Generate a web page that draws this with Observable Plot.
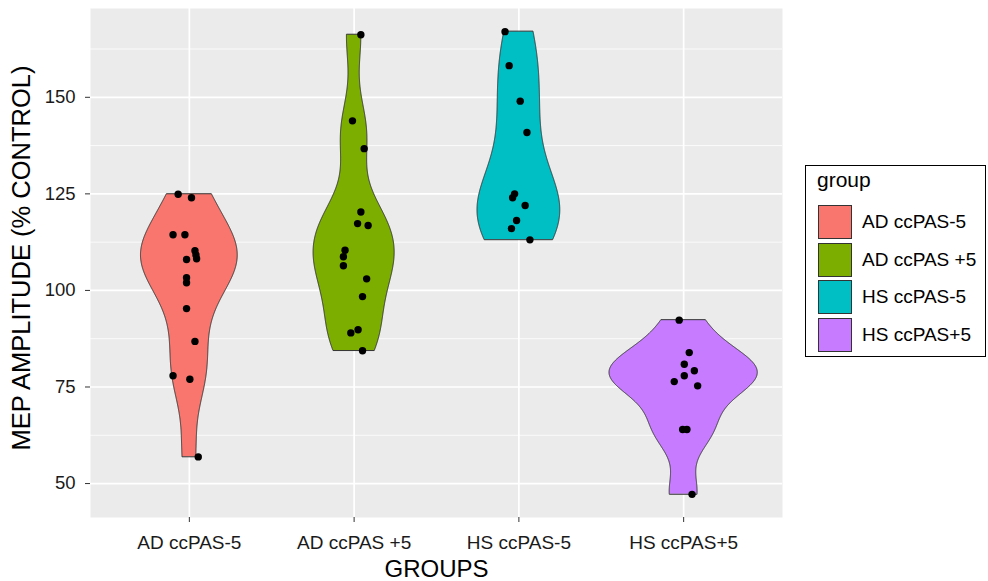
<!DOCTYPE html>
<html><head><meta charset="utf-8">
<script src="https://cdn.jsdelivr.net/npm/d3@7"></script>
<script src="https://cdn.jsdelivr.net/npm/@observablehq/plot@0.6"></script>
<style>
body{margin:0;background:#fff;font-family:"Liberation Sans",Arial,sans-serif;}
#wrap{position:relative;width:988px;height:581px;overflow:hidden;}
#legend{position:absolute;left:805px;top:165px;width:181px;height:192px;border:1.5px solid #000;box-sizing:border-box;background:#fff;}
#legend .title{position:absolute;left:11px;top:2px;font-size:21px;color:#000;}
#legend .item{position:absolute;left:12px;height:36px;display:flex;align-items:center;}
#legend .sw{width:34px;height:34px;border:1px solid #333;box-sizing:border-box;}
#legend .lab{margin-left:10px;font-size:19px;color:#000;white-space:nowrap;}
</style></head><body><div id="wrap"></div>
<script>
const groups = ["AD ccPAS-5", "AD ccPAS +5", "HS ccPAS-5", "HS ccPAS+5"];
const colors = ["#F8766D", "#7CAE00", "#00BFC4", "#C77CFF"];

const adMinus5 = [124.9, 124.0, 114.4, 114.4, 110.3, 109.2, 108.0, 108.2, 103.3, 102.0, 95.3, 86.8, 77.9, 77.0, 56.9];
const adMinus5Jitter = [-0.068, 0.013, -0.099, -0.027, 0.034, 0.040, -0.017, 0.044, -0.017, -0.017, -0.017, 0.034, -0.099, 0.003, 0.054];

const adPlus5 = [166.2, 143.9, 136.7, 120.3, 117.3, 116.8, 110.4, 108.7, 106.4, 103.0, 98.4, 89.8, 89.0, 84.4];
const adPlus5Jitter = [0.041, -0.010, 0.061, 0.041, 0.021, 0.085, -0.055, -0.065, -0.065, 0.076, 0.051, 0.024, -0.020, 0.051];

const hsMinus5 = [167.0, 158.2, 149.0, 140.9, 125.0, 124.0, 122.0, 118.1, 116.0, 113.1];
const hsMinus5Jitter = [-0.084, -0.059, 0.008, 0.049, -0.026, -0.038, 0.038, -0.014, -0.045, 0.067];

const hsPlus5 = [92.3, 83.9, 80.9, 79.2, 77.9, 76.4, 75.3, 64.0, 64.0, 47.2];
const hsPlus5Jitter = [-0.027, 0.034, 0.004, 0.065, 0.004, -0.057, 0.085, -0.006, 0.020, 0.051];

const yTicks = [50, 75, 100, 125, 150];
const yMinorTicks = [62.5, 87.5, 112.5, 137.5, 162.5];
const xTitle = "GROUPS";
const yTitle = "MEP AMPLITUDE (% CONTROL)";
const legendTitle = "group";

const seriesValues = [adMinus5, adPlus5, hsMinus5, hsPlus5];
const seriesJitter = [adMinus5Jitter, adPlus5Jitter, hsMinus5Jitter, hsPlus5Jitter];

// ggplot-like violin: gaussian KDE with bw.nrd0, trimmed to data range, scale = "area", width 0.9
function nrd0(v) {
  const s = d3.deviation(v);
  const q = (d3.quantile(v, 0.75) - d3.quantile(v, 0.25)) / 1.34;
  let lo = Math.min(s, q);
  if (!(lo > 0)) lo = s || 1;
  return 0.9 * lo * Math.pow(v.length, -0.2);
}
function dens(v, bw, y) {
  let s = 0;
  for (const x of v) { const z = (y - x) / bw; s += Math.exp(-0.5 * z * z); }
  return s / (v.length * bw * Math.sqrt(2 * Math.PI));
}
const raw = [];
seriesValues.forEach((v, gi) => {
  const bw = nrd0(v);
  const [mn, mx] = d3.extent(v);
  const n = 512;
  for (let k = 0; k < n; k++) {
    const y = mn + (mx - mn) * k / (n - 1);
    raw.push({g: groups[gi], i: gi + 1, y, d: dens(v, bw, y)});
  }
});
const maxD = d3.max(raw, r => r.d);
const violins = raw.map(r => ({...r, x1: r.i - 0.45 * r.d / maxD, x2: r.i + 0.45 * r.d / maxD}));

const points = [];
seriesValues.forEach((v, gi) => v.forEach((y, k) => points.push({g: groups[gi], x: gi + 1 + seriesJitter[gi][k], y})));

const allY = seriesValues.flat();
const [yMin, yMax] = d3.extent(allY);
const pad = (yMax - yMin) * 0.05;

const plot = Plot.plot({
  width: 988, height: 581,
  marginLeft: 90, marginRight: 206, marginTop: 8, marginBottom: 64,
  style: {fontFamily: "Liberation Sans, Arial, sans-serif", background: "transparent", overflow: "visible"},
  x: {domain: [0.4, 4.6]},
  y: {domain: [yMin - pad, yMax + pad]},
  color: {domain: groups, range: colors},
  marks: [
    Plot.frame({fill: "#EBEBEB", stroke: null}),
    Plot.ruleY(yMinorTicks, {stroke: "#fff", strokeWidth: 0.8}),
    Plot.ruleY(yTicks, {stroke: "#fff", strokeWidth: 1.7}),
    Plot.ruleX([1, 2, 3, 4], {stroke: "#fff", strokeWidth: 1.7}),
    Plot.areaX(violins, {y: "y", x1: "x1", x2: "x2", z: "g", fill: "g", stroke: "#333", strokeWidth: 1, fillOpacity: 1}),
    Plot.dot(points, {x: "x", y: "y", r: 3.7, fill: "#000", stroke: null}),
    Plot.axisX({ticks: [1, 2, 3, 4], tickFormat: i => groups[i - 1], tickSize: 5, tickPadding: 13, fontSize: 19, color: "#1a1a1a", stroke: "#333", label: null}),
    Plot.axisY({ticks: yTicks, tickSize: 5, tickPadding: 10, fontSize: 18.5, color: "#1a1a1a", stroke: "#333", label: null}),
    Plot.text([xTitle], {text: d => d, frameAnchor: "bottom", dy: 52, fontSize: 24, fill: "#000", lineAnchor: "middle", textAnchor: "middle"}),
    Plot.text([yTitle], {text: d => d, frameAnchor: "left", dx: -69, dy: -5, rotate: -90, fontSize: 25.5, fill: "#000", lineAnchor: "middle", textAnchor: "middle"})
  ]
});
const wrap = document.getElementById("wrap");
wrap.appendChild(plot);

const leg = document.createElement("div");
leg.id = "legend";
const t = document.createElement("div");
t.className = "title"; t.textContent = legendTitle;
leg.appendChild(t);
groups.forEach((g, i) => {
  const it = document.createElement("div");
  it.className = "item";
  it.style.top = (38 + i * 37.7) + "px";
  const sw = document.createElement("div");
  sw.className = "sw"; sw.style.background = colors[i];
  const lab = document.createElement("span");
  lab.className = "lab"; lab.textContent = g;
  it.appendChild(sw); it.appendChild(lab);
  leg.appendChild(it);
});
wrap.appendChild(leg);
</script>
</body></html>
